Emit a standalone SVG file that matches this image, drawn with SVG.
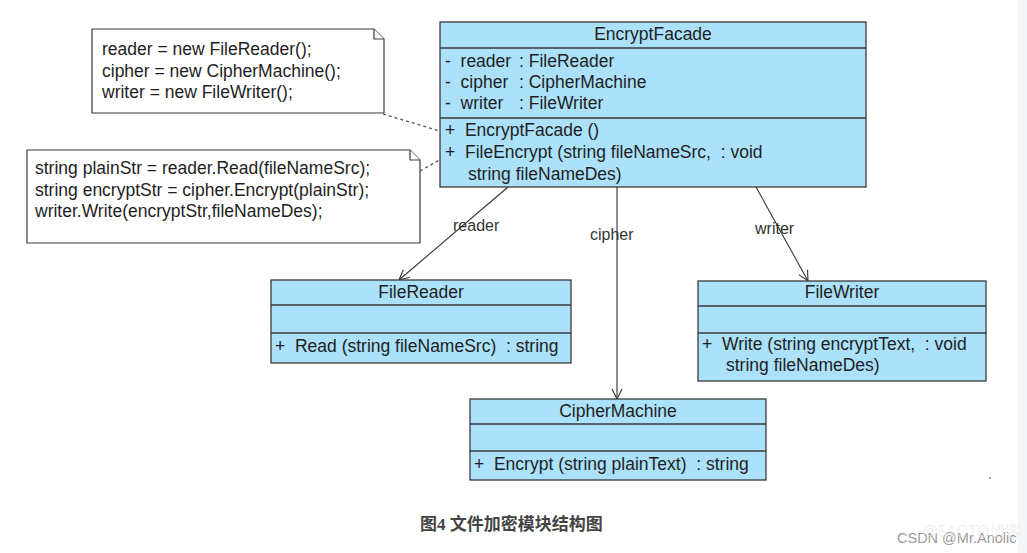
<svg xmlns="http://www.w3.org/2000/svg" width="1027" height="553" viewBox="0 0 1027 553">
<style>
  .cls { fill: #abe1fa; stroke: #3a3a3a; stroke-width: 1.3; }
  .sep { stroke: #3a3a3a; stroke-width: 1.3; }
  .note { fill: #ffffff; stroke: #3a3a3a; stroke-width: 1.2; }
  .t { font-family: "Liberation Sans", Arial, sans-serif; font-size: 17.5px; fill: #1e1e1e; white-space: pre; }
  .c { text-anchor: middle; }
  .edge { stroke: #333333; stroke-width: 1.1; fill: none; }
  .dash { stroke: #555555; stroke-width: 1.3; fill: none; stroke-dasharray: 3 3; }
  .lbl { font-family: "Liberation Sans", Arial, sans-serif; font-size: 16px; fill: #333333; }
</style>
<defs>
  <marker id="open" viewBox="0 0 12 12" refX="11" refY="6" markerWidth="12" markerHeight="12" markerUnits="userSpaceOnUse" orient="auto">
    <path d="M1,1 L11,6 L1,11" fill="none" stroke="#333333" stroke-width="1.1"/>
  </marker>
</defs>
<rect x="0" y="0" width="1027" height="553" fill="#ffffff"/>
<rect x="1018" y="0" width="9" height="553" fill="#f4f5f6"/>

<g id="connectors">
  <line class="dash" x1="383" y1="114" x2="443" y2="132"/>
  <line class="dash" x1="420" y1="171" x2="443" y2="158"/>
  <line class="edge" x1="508" y1="187" x2="399" y2="280" marker-end="url(#open)"/>
  <line class="edge" x1="617" y1="187" x2="617" y2="399" marker-end="url(#open)"/>
  <line class="edge" x1="756" y1="187" x2="808" y2="281" marker-end="url(#open)"/>
  <text class="lbl" x="453" y="231">reader</text>
  <text class="lbl" x="590" y="240">cipher</text>
  <text class="lbl" x="755" y="234">writer</text>
</g>

<g id="note1">
  <path class="note" d="M92,29 L374,29 L384,39 L384,113 L92,113 Z"/>
  <path class="note" d="M374,29 L374,39 L384,39" fill="none"/>
  <text class="t" x="102" y="55">reader = new FileReader();</text>
  <text class="t" x="102" y="77">cipher = new CipherMachine();</text>
  <text class="t" x="102" y="98">writer = new FileWriter();</text>
</g>

<g id="note2">
  <path class="note" d="M27,150 L410,150 L420,160 L420,243 L27,243 Z"/>
  <path class="note" d="M410,150 L410,160 L420,160" fill="none"/>
  <text class="t" x="35" y="174">string plainStr = reader.Read(fileNameSrc);</text>
  <text class="t" x="35" y="196">string encryptStr = cipher.Encrypt(plainStr);</text>
  <text class="t" x="35" y="217">writer.Write(encryptStr,fileNameDes);</text>
</g>

<g id="EncryptFacade">
  <rect class="cls" x="440" y="22" width="426" height="165"/>
  <line class="sep" x1="440" y1="48" x2="866" y2="48"/>
  <line class="sep" x1="440" y1="118" x2="866" y2="118"/>
  <text class="t c" x="653" y="40">EncryptFacade</text>
  <text class="t" x="445" y="67">-  reader</text>
  <text class="t" x="519" y="67">: FileReader</text>
  <text class="t" x="445" y="88">-  cipher</text>
  <text class="t" x="519" y="88">: CipherMachine</text>
  <text class="t" x="445" y="109">-  writer</text>
  <text class="t" x="519" y="109">: FileWriter</text>
  <text class="t" x="445" y="136">+  EncryptFacade ()</text>
  <text class="t" x="445" y="158">+  FileEncrypt (string fileNameSrc,  : void</text>
  <text class="t" x="468" y="180">string fileNameDes)</text>
</g>

<g id="FileReader">
  <rect class="cls" x="271" y="280" width="300" height="83"/>
  <line class="sep" x1="271" y1="305" x2="571" y2="305"/>
  <line class="sep" x1="271" y1="333" x2="571" y2="333"/>
  <text class="t c" x="421" y="298">FileReader</text>
  <text class="t" x="275" y="352">+  Read (string fileNameSrc)  : string</text>
</g>

<g id="FileWriter">
  <rect class="cls" x="698" y="281" width="288" height="100"/>
  <line class="sep" x1="698" y1="306" x2="986" y2="306"/>
  <line class="sep" x1="698" y1="333" x2="986" y2="333"/>
  <text class="t c" x="842" y="298">FileWriter</text>
  <text class="t" x="702" y="350">+  Write (string encryptText,  : void</text>
  <text class="t" x="726" y="371">string fileNameDes)</text>
</g>

<g id="CipherMachine">
  <rect class="cls" x="470" y="399" width="296" height="81"/>
  <line class="sep" x1="470" y1="424" x2="766" y2="424"/>
  <line class="sep" x1="470" y1="451" x2="766" y2="451"/>
  <text class="t c" x="618" y="417">CipherMachine</text>
  <text class="t" x="474" y="470">+  Encrypt (string plainText)  : string</text>
</g>

<g id="caption">
  <text x="420" y="530" font-family="'Liberation Serif', 'Noto Sans CJK SC', serif" font-size="17" font-weight="bold" fill="#444444">图4 文件加密模块结构图</text>
</g>
<circle cx="990" cy="478" r="1" fill="#888888"/>
<text x="897" y="543" font-family="'Liberation Sans', 'Noto Sans CJK SC', sans-serif" font-size="14.5" fill="#9a9a9a">CSDN @Mr.Anolic</text>
<text x="922" y="537" font-family="'Liberation Sans', 'Noto Sans CJK SC', sans-serif" font-size="16" fill="#e6e6e6" fill-opacity="0.6">@51CTO博客</text>
</svg>
